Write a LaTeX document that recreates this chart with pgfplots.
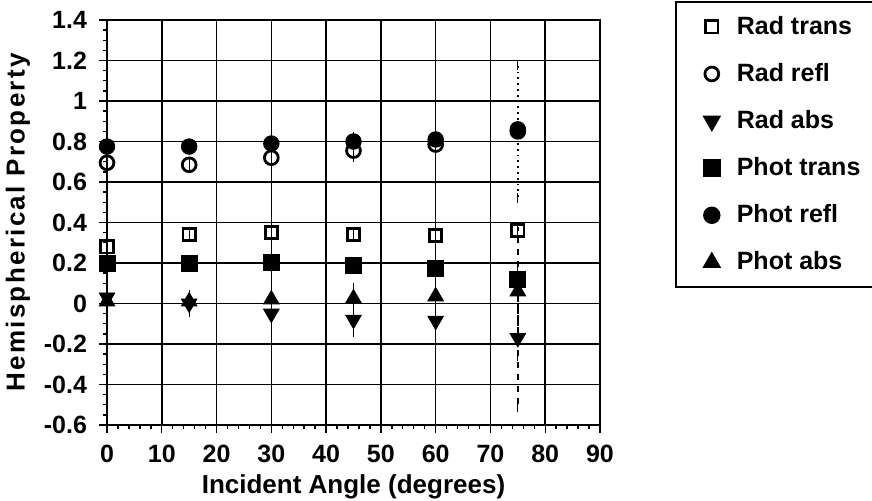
\documentclass[border=0pt]{standalone}
\usepackage{pgfplots}
\pgfplotsset{compat=1.18}
\usepackage{fontspec}
\setmainfont{Liberation Sans}
\pgfplotsset{
  myerr/.style={error bars/.cd, y dir=both, y explicit,
    error bar style={black, line width=0.6pt},
    error mark options={black, line width=0.6pt, mark size=2.5pt}},
  wideerr/.style={error bars/.cd, y dir=both, y explicit,
    error bar style={black, line width=0.9pt, #1},
    error mark options={black, line width=0.6pt, mark size=2.5pt, solid}},
}
\begin{document}
\begin{tikzpicture}[x=1pt,y=1pt]
\begin{axis}[
  at={(0,0)}, anchor=south west,
  scale only axis, width=246.5pt, height=202.5pt,
  xmin=0, xmax=90, ymin=-0.6, ymax=1.4,
  xtick={0,10,20,30,40,50,60,70,80,90},
  ytick={-0.6,-0.4,-0.2,0,0.2,0.4,0.6,0.8,1,1.2,1.4},
  yticklabels={-0.6,-0.4,-0.2,0,0.2,0.4,0.6,0.8,1,1.2,1.4},
  /pgf/number format/assume math mode=true,
  minor x tick num=4, minor y tick num=3,
  grid=major, major grid style={black, line width=0.8pt},
  axis line style={line width=0.9pt},
  tick align=outside, tick pos=left,
  major tick length=4pt, minor tick length=2.2pt,
  every tick/.style={black, line width=0.7pt},
  ticklabel style={font=\fontsize{12.5}{14}\selectfont\bfseries},
  yticklabel style={xshift=-2.5pt},
  xticklabel style={yshift=-2.5pt},
  xlabel={Incident Angle (degrees)},
  ylabel={\addfontfeatures{LetterSpace=9}Hemispherical Property},
  label style={font=\fontsize{13}{15}\selectfont\bfseries},
  xlabel style={yshift=1pt},
  legend style={at={(1.152,1.046)}, anchor=north west, draw=black, line width=0.9pt,
    font=\fontsize{12.5}{15}\selectfont\bfseries, row sep=9pt, inner ysep=5pt, inner xsep=14pt,
    /tikz/every odd column/.append style={column sep=6.5pt}},
  legend cell align=left,
]
% wide error bars at 75 degrees
\addplot[forget plot, only marks, mark=none, wideerr=dotted]
  coordinates {(75,0.85) +- (0,0.33)};
\addplot[forget plot, only marks, mark=none, wideerr=dashed]
  coordinates {(75,-0.17) +- (0,0.34) (75,0.06) +- (0,0.32)};

\addplot[only marks, mark=square, mark size=3.05pt, mark options={black, line width=1.4pt}, myerr]
  coordinates {(0,0.28) +- (0,0.01) (15,0.34) +- (0,0.01) (30,0.35) +- (0,0.01)
    (45,0.34) +- (0,0.01) (60,0.335) +- (0,0.01) (75,0.36) +- (0,0.01)};
\addlegendentry{\makebox[80pt][l]{Rad trans}}
\addplot[only marks, mark=o, mark size=3.45pt, mark options={black, line width=1.4pt}, myerr]
  coordinates {(0,0.695) +- (0,0.01) (15,0.685) +- (0,0.01) (30,0.72) +- (0,0.01)
    (45,0.755) +- (0,0.03) (60,0.785) +- (0,0.115) (75,0.85) +- (0,0)};
\addlegendentry{Rad refl}
\addplot[only marks, mark=triangle*, mark size=4.5pt, mark options={black, fill=black, rotate=180}, myerr]
  coordinates {(0,0.03) +- (0,0.02) (15,0.0) +- (0,0.04) (30,-0.05) +- (0,0.03)
    (45,-0.08) +- (0,0.06) (60,-0.085) +- (0,0.1) (75,-0.17) +- (0,0)};
\addlegendentry{Rad abs}
\addplot[only marks, mark=square*, mark size=4pt, mark options={black, fill=black}, myerr]
  coordinates {(0,0.2) +- (0,0) (15,0.2) +- (0,0) (30,0.205) +- (0,0)
    (45,0.19) +- (0,0) (60,0.175) +- (0,0) (75,0.12) +- (0,0)};
\addlegendentry{Phot trans}
\addplot[only marks, mark=*, mark size=3.9pt, mark options={black, fill=black}, myerr]
  coordinates {(0,0.775) +- (0,0) (15,0.775) +- (0,0) (30,0.79) +- (0,0)
    (45,0.80) +- (0,0.02) (60,0.81) +- (0,0.09) (75,0.86) +- (0,0)};
\addlegendentry{Phot refl}
\addplot[only marks, mark=triangle*, mark size=4.5pt, mark options={black, fill=black}, myerr]
  coordinates {(0,0.01) +- (0,0.02) (15,0.01) +- (0,0.03) (30,0.02) +- (0,0.04)
    (45,0.025) +- (0,0.05) (60,0.035) +- (0,0.06) (75,0.06) +- (0,0)};
\addlegendentry{Phot abs}
\end{axis}
\pgfresetboundingbox
\path[use as bounding box] (-53.5,-37.5) rectangle (382.5,212.5);
\end{tikzpicture}
\end{document}
